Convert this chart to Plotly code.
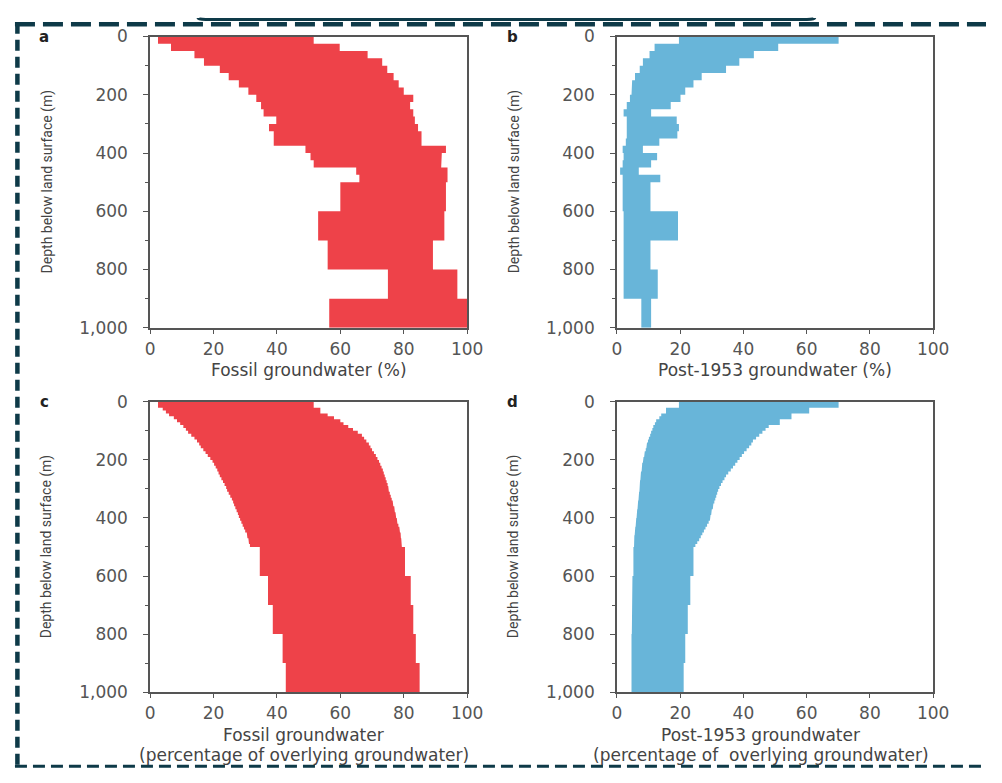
import plotly.graph_objects as go

# ---------------- data ----------------
ab_edges = [0, 25, 50, 75, 100, 125, 150, 175, 200, 225, 250, 275, 300, 325, 350,
            375, 400, 425, 450, 475, 500, 600, 700, 800, 900, 1000]
cd_edges = [0, 10, 20, 30, 40, 50, 60, 70, 80, 90, 100, 110, 120, 130, 140, 150,
            160, 170, 180, 190, 200, 210, 220, 230, 240, 250, 260, 270, 280, 290,
            300, 310, 320, 330, 340, 350, 360, 370, 380, 390, 400, 410, 420, 430,
            440, 450, 460, 470, 480, 490, 500, 600, 700, 800, 900, 1000]

a_low = [2.5, 6.6, 14, 17, 22, 24.8, 28, 31, 33.5, 35, 35.8, 39.8, 37.5, 39, 39,
         49, 50.6, 51.6, 65, 66, 60, 53, 56, 75, 56.5]
a_high = [51.6, 59.8, 68.6, 73.2, 74.8, 76.8, 78.4, 80, 83, 82, 83, 83.5, 84.5, 85.6,
          85.6, 93.3, 92, 91.8, 93.8, 93.8, 93.3, 92.8, 89.2, 96.9, 100]

b_low = [19.6, 11.9, 10.3, 8.2, 7.2, 5.7, 4.8, 4.6, 4.1, 3.1, 2.1, 3.1, 3.1, 3.1, 2.8,
         1.8, 2.1, 1.8, 1.0, 1.8, 1.8, 2.1, 2.1, 2.1, 7.7]
b_high = [70.1, 51, 43.3, 38.7, 34.5, 26.8, 24.2, 21.6, 20.1, 17, 10.8, 18.9, 19.6,
          19.1, 13.4, 8.2, 12.7, 10.8, 6.9, 13.7, 10.6, 19.3, 10.6, 12.9, 10.8]

c_low = [2.5, 2.5, 4, 5, 6, 7.5, 8.5, 9.5, 10.5, 11.3, 12, 13, 14, 14.8, 15.5, 16,
         16.8, 17.5, 18.2, 19, 19.7, 20.2, 20.7, 21.2, 21.6, 22, 22.5, 23, 23.5, 24,
         24.3, 24.8, 25.3, 25.8, 26.2, 26.5, 26.9, 27.3, 27.7, 28, 28.4, 28.8, 29.2,
         29.6, 30, 30.5, 30.7, 31, 31.2, 31.5, 34.6, 37.2, 38.7, 41.8, 42.8]
c_high = [51.6, 51.6, 53.7, 53.7, 56, 58, 60, 61, 62.5, 64, 65.5, 66.8, 67.5, 68.2,
          69, 69.5, 70, 70.6, 71.2, 71.7, 72.2, 72.6, 73, 73.4, 73.7, 74, 74.3, 74.6,
          74.9, 75.1, 75.3, 75.6, 75.9, 76.2, 76.5, 76.7, 77, 77.2, 77.4, 77.6, 77.8,
          78, 78.3, 78.6, 78.8, 79, 79.1, 79.2, 79.3, 79.4, 80.4, 82.2, 83, 83.8, 85]

d_low = [19.6, 19.6, 15.5, 15.5, 14, 13.4, 12.4, 12, 11.5, 11.2, 10.8, 10.5, 10.1,
         9.8, 9.5, 9.3, 9.1, 8.8, 8.6, 8.4, 8.2, 8.0, 7.9, 7.8, 7.6, 7.5, 7.4, 7.3,
         7.2, 7.2, 7.1, 7.0, 6.9, 6.8, 6.7, 6.6, 6.5, 6.4, 6.3, 6.2, 6.1, 6.0, 5.9,
         5.8, 5.7, 5.6, 5.5, 5.5, 5.4, 5.4, 5.2, 4.9, 4.7, 4.6, 4.6]
d_high = [70.1, 70.1, 60.8, 60.8, 55.2, 55.2, 51.5, 51.5, 48, 47, 46, 45, 44, 43,
          42.5, 41.8, 41, 40.2, 39.5, 38.8, 38.1, 37.4, 36.7, 36, 35.2, 34.5, 34,
          33.4, 32.9, 32.4, 32, 31.7, 31.4, 31.1, 30.8, 30.5, 30.3, 30, 29.8, 29.6,
          29.4, 29, 28.5, 28, 27.5, 27, 26.5, 26, 25.4, 24.8, 24.2, 23.2, 22.4, 21.6,
          21.1]

x_ticks = [0, 20, 40, 60, 80, 100]
y_ticks = [0, 200, 400, 600, 800, 1000]
panel_letters = ["a", "b", "c", "d"]
x_titles_top = ["Fossil groundwater (%)", "Post-1953 groundwater (%)"]
x_titles_bottom_1 = ["Fossil groundwater", "Post-1953 groundwater"]
x_titles_bottom_2 = ["(percentage of overlying groundwater)",
                     "(percentage of\u00a0 overlying groundwater)"]
y_title = "Depth below land surface (m)"

RED = "#EE4249"
BLUE = "#68B5D9"

# the page has an 8 px body margin: figure covers page pixels 8..1002 x 8..783
OX, OY = 8, 8
W, H = 994, 775


def px(x):
    return (x - OX) / W


def py(y):
    return 1 - (y - OY) / H


panels = [
    (ab_edges, a_low, a_high, RED, "x", "y"),
    (ab_edges, b_low, b_high, BLUE, "x2", "y2"),
    (cd_edges, c_low, c_high, RED, "x3", "y3"),
    (cd_edges, d_low, d_high, BLUE, "x4", "y4"),
]

fig = go.Figure()
for edges, lo, hi, col, xa, ya in panels:
    n = len(lo)
    xs, ys = [], []
    for i in range(n):
        xs += [lo[i], lo[i]]
        ys += [edges[i], edges[i + 1]]
    for i in reversed(range(n)):
        xs += [hi[i], hi[i]]
        ys += [edges[i + 1], edges[i]]
    fig.add_trace(go.Scatter(
        x=xs, y=ys, mode="lines", fill="toself", fillcolor=col,
        line=dict(width=0, color=col), xaxis=xa, yaxis=ya,
        showlegend=False, hoverinfo="skip"))

TICKFONT = dict(family="DejaVu Sans, sans-serif", size=17, color="#555555")
TITLEFONT = dict(family="DejaVu Sans, sans-serif", size=17, color="#444444")
AXC = "#555555"

# panel frames in page pixels
xdom = [(148, 472), (625, 948), (148, 472), (625, 948)]
ydom = [(27, 326), (27, 326), (402, 700), (402, 700)]

layout = dict(width=W, height=H, margin=dict(l=0, r=0, t=0, b=0),
              plot_bgcolor="white", paper_bgcolor="white")
for i in range(4):
    sx = "" if i == 0 else str(i + 1)
    layout["xaxis" + sx] = dict(
        domain=[px(xdom[i][0]), px(xdom[i][1])], anchor="y" + sx,
        range=[0, 100], tickvals=x_ticks, showgrid=False, zeroline=False,
        showline=True, linecolor=AXC, linewidth=1.6, mirror=True,
        ticks="outside", ticklen=4, tickcolor=AXC, tickwidth=1.3,
        ticklabelstandoff=1, tickfont=TICKFONT, fixedrange=True)
    layout["yaxis" + sx] = dict(
        domain=[py(ydom[i][1]), py(ydom[i][0])], anchor="x" + sx,
        range=[1000, 0], tickvals=y_ticks, tickformat=",d", showgrid=False,
        zeroline=False, showline=True, linecolor=AXC, linewidth=1.6, mirror=True,
        ticks="outside", ticklen=5, tickcolor=AXC, tickwidth=1.3,
        minor=dict(dtick=100, ticks="outside", ticklen=3, tickcolor=AXC),
        ticklabelstandoff=12, tickfont=TICKFONT, fixedrange=True)

annotations = []
letter_pos = [(40, 27), (518, 27), (40, 402), (518, 402)]
for (lx, ly), t in zip(letter_pos, panel_letters):
    annotations.append(dict(x=px(lx), y=py(ly), xref="paper", yref="paper",
                            text="<b>" + t + "</b>", showarrow=False,
                            font=dict(family="DejaVu Sans, sans-serif", size=15, color="#222222"),
                            xanchor="center", yanchor="middle"))
ytitle_x = [43, 520, 43, 520]
for i in range(4):
    cy = (ydom[i][0] + ydom[i][1]) / 2
    annotations.append(dict(x=px(ytitle_x[i]), y=py(cy), xref="paper", yref="paper",
                            text=y_title, showarrow=False, textangle=-90,
                            font=dict(family="Roboto, sans-serif", size=14, color="#444444"),
                            xanchor="center", yanchor="middle"))
for i in range(2):
    cx = (xdom[i][0] + xdom[i][1]) / 2
    annotations.append(dict(x=px(cx), y=py(369), xref="paper", yref="paper",
                            text=x_titles_top[i], showarrow=False, font=TITLEFONT,
                            xanchor="center", yanchor="middle"))
bottom_cx = [305, 772]
for i in range(2):
    annotations.append(dict(x=px(bottom_cx[i]), y=py(744), xref="paper", yref="paper",
                            text=x_titles_bottom_1[i], showarrow=False, font=TITLEFONT,
                            xanchor="center", yanchor="middle"))
    annotations.append(dict(x=px(bottom_cx[i]), y=py(765), xref="paper", yref="paper",
                            text=x_titles_bottom_2[i], showarrow=False, font=TITLEFONT,
                            xanchor="center", yanchor="middle"))
layout["annotations"] = annotations

BORDER = "#0E3A48"
shapes = [
    dict(type="line", xref="paper", yref="paper", x0=px(10), x1=1,
         y0=py(14.5), y1=py(14.5), line=dict(color=BORDER, width=4.5, dash="20px,8px")),
    dict(type="line", xref="paper", yref="paper", x0=px(12.5), x1=px(12.5),
         y0=py(13), y1=py(777), line=dict(color=BORDER, width=4.5, dash="11px,6px")),
    dict(type="line", xref="paper", yref="paper", x0=px(10), x1=1,
         y0=py(776), y1=py(776), line=dict(color=BORDER, width=3, dash="12px,6px")),
    dict(type="path", xref="paper", yref="paper",
         path=(f"M {px(197)},{py(8)} "
               f"Q {px(197)},{py(9.5)} {px(205)},{py(9.5)} L {px(819)},{py(9.5)} "
               f"Q {px(827)},{py(9.5)} {px(827)},{py(8)}"),
         line=dict(color=BORDER, width=3)),
]
layout["shapes"] = shapes

fig.update_layout(**layout)
fig.write_html("out.html")
